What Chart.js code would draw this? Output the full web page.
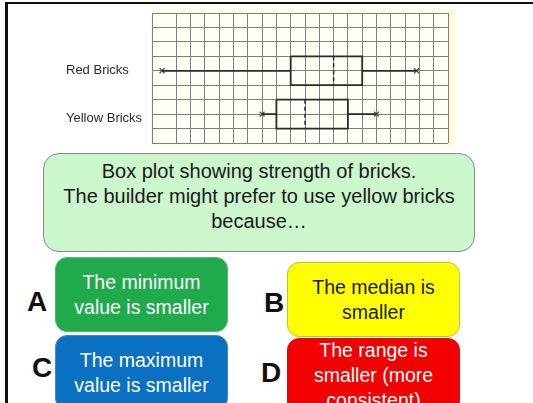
<!DOCTYPE html>
<html>
<head>
<meta charset="utf-8">
<script src="https://cdn.jsdelivr.net/npm/chart.js@4"></script>
<style>
    body { margin: 0; width: 533px; height: 403px; overflow: hidden; background: #fff; position: relative;
           font-family: 'Liberation Sans', Arial, sans-serif; }
    .frame { position: absolute; left: 5px; top: 2px; right: -5px; bottom: -10px;
             border-top: 2px solid #111; border-left: 3px solid #111; }
    #chartWrap { position: absolute; left: 60px; top: 5px; width: 400px; height: 145px; }
    .question { position: absolute; left: 43px; top: 153px; width: 432px; height: 99px; box-sizing: border-box;
                border: 1.5px solid #8a8a8a; border-radius: 16px; background: #ccf6cc; color: #1a1a1a;
                font-size: 20px; line-height: 25px; text-align: center; padding-top: 5px; }
    .answer { position: absolute; width: 173px; height: 75px; box-sizing: border-box; border-radius: 12px;
              display: flex; align-items: center; justify-content: center; text-align: center;
              font-size: 19.5px; line-height: 25px; color: #fff; }
    .letter { position: absolute; font-size: 28px; font-weight: bold; color: #111; line-height: 30px; }
</style>
</head>
<body>
<div class="frame"></div>
<div id="chartWrap"><canvas id="boxChart"></canvas></div>

<div class="question">Box plot showing strength of bricks.<br>The builder might prefer to use yellow bricks<br>because…</div>

<div class="letter" style="left:27px; top:287px;">A</div>
<div class="answer" style="left:55px; top:257px; background:#20aa4b; border:1px solid #4cc070;">The minimum<br>value is smaller</div>

<div class="letter" style="left:264px; top:288px;">B</div>
<div class="answer" style="left:287px; top:262px; background:#ffff00; border:1px solid #b8c43a; color:#1a1a1a;">The median is<br>smaller</div>

<div class="letter" style="left:32px; top:353px;">C</div>
<div class="answer" style="left:55px; top:335px; background:#0a70c2; border:1px solid #3a8ad0;">The maximum<br>value is smaller</div>

<div class="letter" style="left:261px; top:358px;">D</div>
<div class="answer" style="left:287px; top:338px; background:#f50000; border:1px solid #d01010;">The range is<br>smaller (more<br>consistent)</div>

<script>
// Box plot data (strength of bricks, in grid units)
const groups = ['Red Bricks', 'Yellow Bricks'];
const minVals = [0, 7];
const q1Vals = [9, 8];
const medianVals = [12, 10];
const q3Vals = [14, 13];
const maxVals = [17.8, 15];

// row of each group on the grid (counted from the top)
const groupRows = [4, 7];

const lineColor = '#2a2a2a';
const gridColor = '#7e7e7e';

function buildDatasets() {
    const sets = [];
    groups.forEach((name, i) => {
        const r = groupRows[i];
        const base = { showLine: true, pointRadius: 0, borderColor: lineColor, borderWidth: 1.8, fill: false };
        sets.push({ ...base, label: name + ' box',
            data: [{ x: q1Vals[i], y: r - 1 }, { x: q3Vals[i], y: r - 1 }, { x: q3Vals[i], y: r + 1 },
                   { x: q1Vals[i], y: r + 1 }, { x: q1Vals[i], y: r - 1 }] });
        sets.push({ ...base, label: name + ' lower whisker',
            data: [{ x: minVals[i], y: r }, { x: q1Vals[i], y: r }] });
        sets.push({ ...base, label: name + ' upper whisker',
            data: [{ x: q3Vals[i], y: r }, { x: maxVals[i], y: r }] });
        sets.push({ ...base, label: name + ' median', borderDash: [4, 3], borderWidth: 1.5,
            data: [{ x: medianVals[i], y: r - 1 }, { x: medianVals[i], y: r + 1 }] });
        sets.push({ label: name + ' extremes', showLine: false, pointStyle: 'crossRot', pointRadius: 3.5,
            pointBorderWidth: 1.4, pointBorderColor: '#555',
            data: [{ x: minVals[i], y: r }, { x: maxVals[i], y: r }] });
    });
    return sets;
}

// pale yellow paper behind the grid, and the group names on the left
const paperPlugin = {
    id: 'paper',
    beforeDraw(chart) {
        const { ctx, chartArea: a } = chart;
        ctx.save();
        ctx.fillStyle = '#fdfbd8';
        ctx.fillRect(a.left - 1, a.top - 3, a.right - a.left + 8, a.bottom - a.top + 6);
        ctx.fillStyle = '#fffff6';
        ctx.fillRect(a.left, a.top, a.right - a.left, a.bottom - a.top);
        ctx.restore();
    },
    afterDraw(chart) {
        const { ctx, chartArea: a, scales: { y } } = chart;
        ctx.save();
        ctx.font = "13px 'Liberation Sans', Arial, sans-serif";
        ctx.fillStyle = '#2a2a2a';
        ctx.textAlign = 'left';
        ctx.textBaseline = 'middle';
        groups.forEach((name, i) => {
            ctx.fillText(name, a.left - 86, y.getPixelForValue(groupRows[i]) + (i === 0 ? 0 : 4));
        });
        ctx.restore();
    }
};

new Chart(document.getElementById('boxChart').getContext('2d'), {
    type: 'scatter',
    data: { datasets: buildDatasets() },
    options: {
        responsive: true,
        maintainAspectRatio: false,
        animation: false,
        layout: { padding: { top: 8, right: 12, bottom: 7, left: 0 } },
        plugins: { legend: { display: false }, tooltip: { enabled: false } },
        scales: {
            x: {
                type: 'linear', min: -0.7, max: 20,
                ticks: { display: false, stepSize: 1 },
                grid: { color: gridColor, lineWidth: 1, drawTicks: false },
                border: { display: false },
                afterFit: s => { s.height = 0; }
            },
            y: {
                type: 'linear', min: 0, max: 9, reverse: true,
                ticks: { display: false, stepSize: 1, autoSkip: false },
                grid: { color: gridColor, lineWidth: 1, drawTicks: false },
                border: { color: gridColor },
                afterFit: s => { s.width = 92; }
            }
        }
    },
    plugins: [paperPlugin]
});
</script>
</body>
</html>
